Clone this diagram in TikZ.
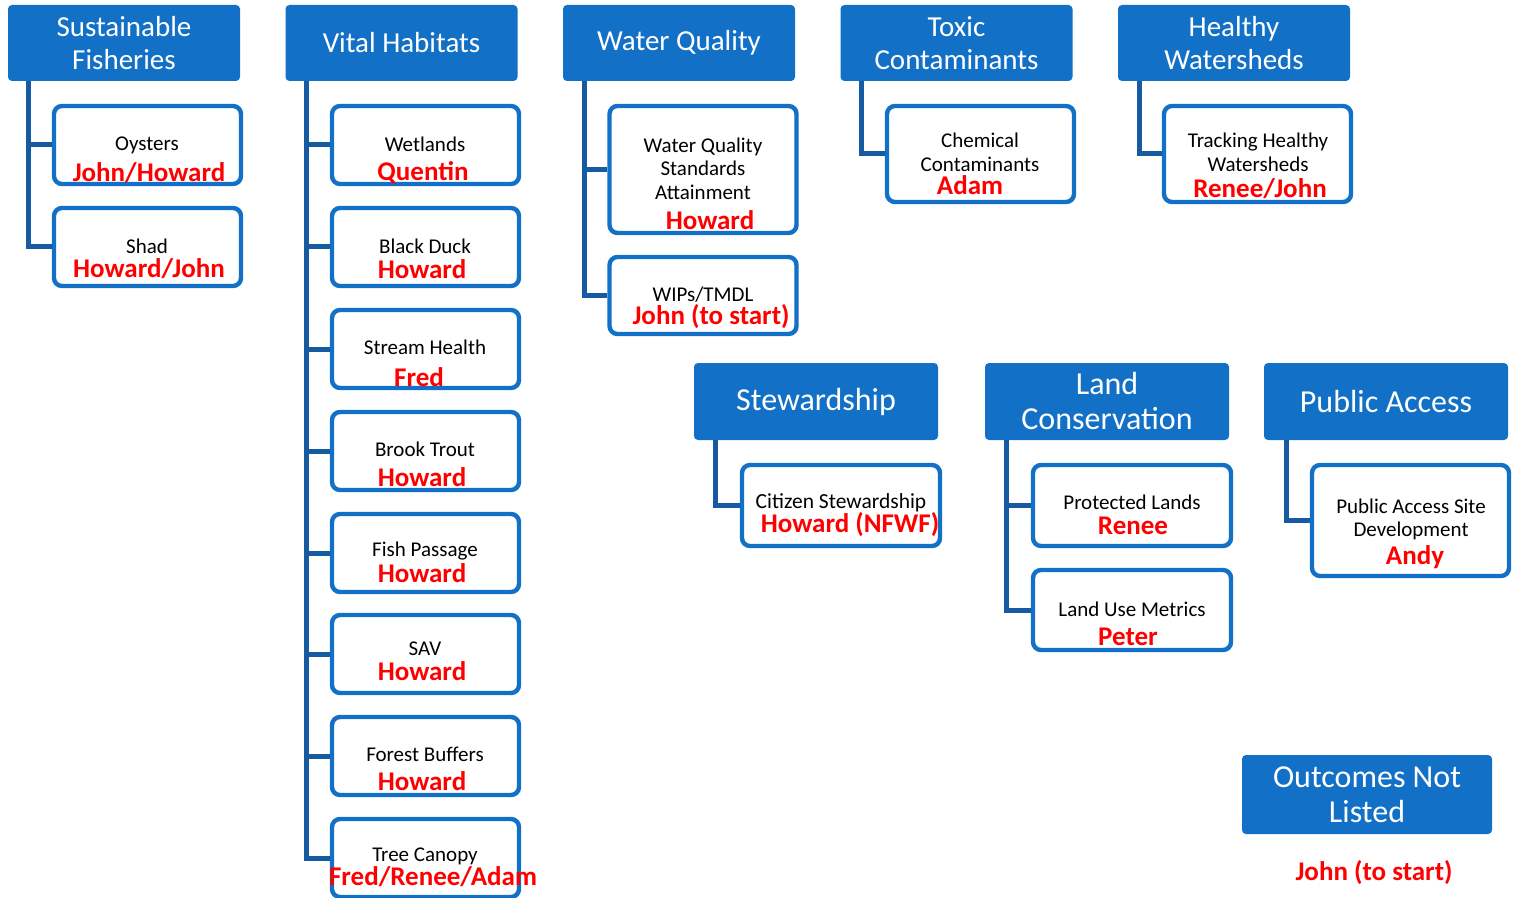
\documentclass[tikz,border=0pt]{standalone}
\usepackage{fontspec}
\setmainfont{Carlito}
\definecolor{hblue}{RGB}{18,112,198}
\definecolor{lblue}{RGB}{22,90,162}
\definecolor{wred}{RGB}{255,0,0}
\tikzset{
  head/.style={fill=hblue, text=white, rounded corners=2pt, minimum width=116pt, minimum height=38pt,
    align=center, inner sep=0pt, font=\fontsize{14.5}{16.5}\selectfont},
  headb/.style={head, minimum width=122pt, minimum height=38.5pt, font=\fontsize{16}{17.5}\selectfont},
  leaf/.style={draw=hblue, line width=2.2pt, fill=white, rounded corners=4pt,
    minimum width=93.5pt, minimum height=39pt, inner sep=0pt},
  what/.style={inner sep=0pt, align=center, font=\fontsize{10.5}{11.75}\selectfont},
  who/.style={inner sep=0pt, text=wred, font=\fontsize{13.5}{14}\selectfont\bfseries},
  link/.style={draw=lblue, line width=2.5pt},
}
\begin{document}
\begin{tikzpicture}[x=0.5pt,y=-0.5pt]
\useasboundingbox[fill=white] (0,0) rectangle (1513,898);
% headers
\node[head] (sfish) at (124,43) {Sustainable\\Fisheries};
\node[head] (vhab) at (401.5,43) {Vital Habitats};
\node[head] (wqual) at (679,43) {Water Quality};
\node[head] (toxic) at (956.5,43) {Toxic\\Contaminants};
\node[head] (hwater) at (1234,43) {Healthy\\Watersheds};
\node[headb] (stew) at (816,401.5) {Stewardship};
\node[headb] (landc) at (1107,401.5) {Land\\Conservation};
\node[headb] (pacc) at (1386,401.5) {Public Access};
\node[headb, minimum width=125pt, minimum height=39.5pt] (other) at (1367,794.5) {Outcomes Not\\Listed};
\node[who] (otherw) at (1374,873) {John (to start)};
% sustainable fisheries
\node[leaf] (oysters) at (147.5,145) {};
\node[leaf] (shad) at (147.5,247) {};
\draw[link] ([xshift=10.5pt]sfish.south west) |- (oysters.west);
\draw[link] ([xshift=10.5pt]sfish.south west) |- (shad.west);
\node[what] (oysterst) at (147,145) {Oysters};
\node[who] (oystersw) at (149,173) {John/Howard};
\node[what] (shadt) at (147,246) {Shad};
\node[who] (shadw) at (149,269) {Howard/John};
% vital habitats
\node[leaf] (wetl) at (425.5,145) {};
\node[leaf] (bduck) at (425.5,247) {};
\node[leaf] (stream) at (425.5,349) {};
\node[leaf] (btrout) at (425.5,451) {};
\node[leaf] (fpass) at (425.5,553) {};
\node[leaf] (sav) at (425.5,654) {};
\node[leaf] (fbuff) at (425.5,756) {};
\node[leaf] (tcan) at (425.5,858) {};
\foreach \n in {wetl,bduck,stream,btrout,fpass,sav,fbuff,tcan}
  \draw[link] ([xshift=10.5pt]vhab.south west) |- (\n.west);
\node[what] (wetlt) at (425,144) {Wetlands};
\node[who] (wetlw) at (423,173) {Quentin};
\node[what] (bduckt) at (425,246) {Black Duck};
\node[who] (bduckw) at (422,269) {Howard};
\node[what] (streamt) at (425,347) {Stream Health};
\node[who] (streamw) at (419,377) {Fred};
\node[what] (btroutt) at (425,449) {Brook Trout};
\node[who] (btroutw) at (422,477) {Howard};
\node[what] (fpasst) at (425,551) {Fish Passage};
\node[who] (fpassw) at (422,573) {Howard};
\node[what] (savt) at (425,649) {SAV};
\node[who] (savw) at (422,671) {Howard};
\node[what] (fbufft) at (425,754) {Forest Buffers};
\node[who] (fbuffw) at (422,781) {Howard};
\node[what] (tcant) at (425,856) {Tree Canopy};
\node[who] (tcanw) at (433,877) {Fred/Renee/Adam};
% water quality
\node[leaf, minimum height=63.5pt] (wqsa) at (703,169.5) {};
\node[leaf, minimum height=38.5pt] (wips) at (703,295.5) {};
\draw[link] ([xshift=11pt]wqual.south west) |- (wqsa.west);
\draw[link] ([xshift=11pt]wqual.south west) |- (wips.west);
\node[what] (wqsat) at (703,168.5) {Water Quality\\Standards\\Attainment};
\node[who] (wqsaw) at (710,220) {Howard};
\node[what] (wipst) at (703,295) {WIPs/TMDL};
\node[who] (wipsw) at (711,317) {John (to start)};
% toxic contaminants
\node[leaf, minimum height=48pt] (chem) at (980.5,154) {};
\draw[link] ([xshift=10.5pt]toxic.south west) |- (chem.west);
\node[what] (chemt) at (980,152.5) {Chemical\\Contaminants};
\node[who] (chemw) at (970,185) {Adam};
% healthy watersheds
\node[leaf, minimum height=48pt] (track) at (1257.5,154) {};
\draw[link] ([xshift=11pt]hwater.south west) |- (track.west);
\node[what] (trackt) at (1258,152.5) {Tracking Healthy\\Watersheds};
\node[who] (trackw) at (1260,189) {Renee/John};
% stewardship
\node[leaf, minimum width=99pt, minimum height=40.5pt] (citz) at (841,505.5) {};
\draw[link] ([xshift=11pt]stew.south west) |- (citz.west);
\node[what, font=\fontsize{10.75}{12}\selectfont] (citzt) at (841,503) {Citizen Stewardship};
\node[who] (citzw) at (850,525) {Howard (NFWF)};
% land conservation
\node[leaf, minimum width=99pt, minimum height=40.5pt] (plands) at (1132,505.5) {};
\node[leaf, minimum width=99pt, minimum height=40pt] (lmetr) at (1132,610) {};
\draw[link] ([xshift=11pt]landc.south west) |- (plands.west);
\draw[link] ([xshift=11pt]landc.south west) |- (lmetr.west);
\node[what] (plandst) at (1132,502) {Protected Lands};
\node[who] (plandsw) at (1133,526) {Renee};
\node[what] (lmetrt) at (1132,609) {Land Use Metrics};
\node[who] (lmetrw) at (1128,637) {Peter};
% public access
\node[leaf, minimum width=98.5pt, minimum height=55.5pt] (pasite) at (1410.5,520.5) {};
\draw[link] ([xshift=11.5pt]pacc.south west) |- (pasite.west);
\node[what] (pasitet) at (1411,519.5) {Public Access Site\\Development};
\node[who] (pasitew) at (1415,557) {Andy};
\end{tikzpicture}
\end{document}
